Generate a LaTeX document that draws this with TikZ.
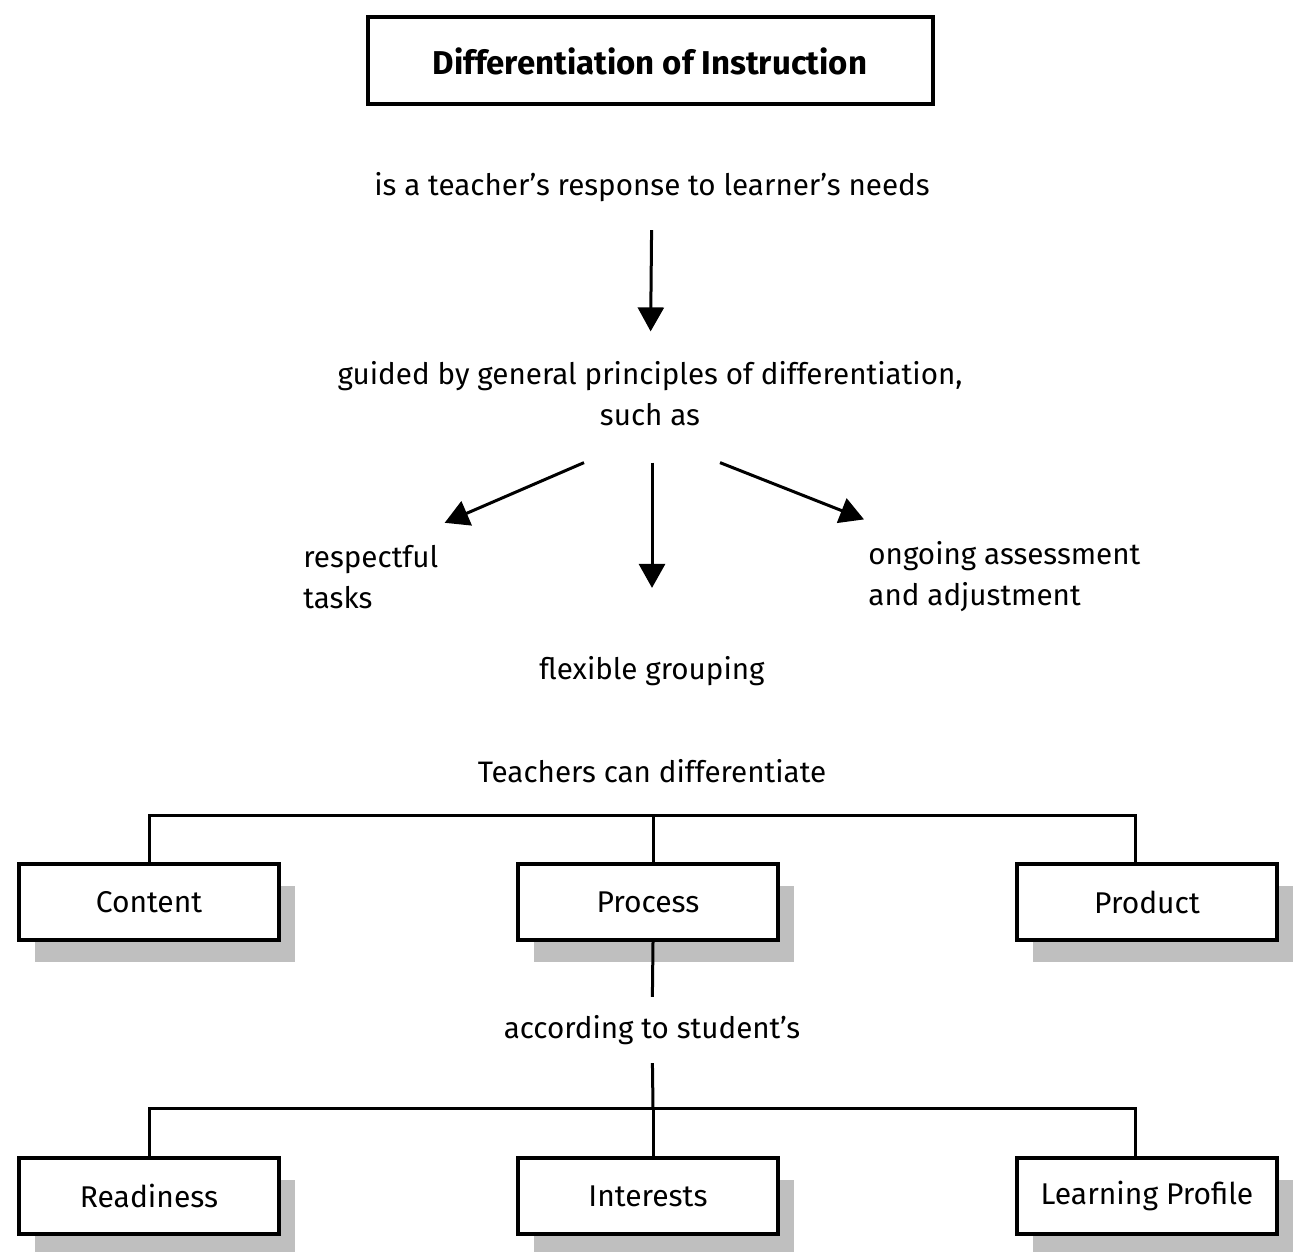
\documentclass[tikz,border=0pt]{standalone}
\usepackage{fontspec}
\setmainfont{Fira Sans}
\usetikzlibrary{positioning,arrows.meta,shadows}
\tikzset{
  titlebox/.style={draw=black, line width=2pt, minimum width=282.5pt, minimum height=43.5pt, font=\fontsize{16.5}{20}\selectfont\bfseries},
  txt/.style={font=\fontsize{14.8}{20.5}\selectfont, inner sep=0pt},
  cbox/.style={draw=black, line width=2pt, fill=white, minimum width=130pt, minimum height=38pt,
    font=\fontsize{15}{20}\selectfont,
    drop shadow={shadow xshift=8pt, shadow yshift=-11pt, fill=gray!50, opacity=1}},
  arr/.style={draw=black, line width=1.5pt, -{Triangle[length=12pt, width=13pt]}},
  ln/.style={draw=black, line width=1.5pt}
}
\begin{document}
\begin{tikzpicture}[x=0.5pt, y=-0.5pt]
  \useasboundingbox[fill=white] (0,0) rectangle (1299,1251);
  % upper part
  \node[titlebox] (diff) at (650,61) {Differentiation of Instruction};
  \node[txt] (resp) at (652,187) {is a teacher’s response to learner’s needs};
  \node[txt, align=center] (guide) at (650,394) {guided by general principles of differentiation,\\such as};
  \node[txt, align=left, anchor=west] (tasks) at (303,577) {respectful\\tasks};
  \node[txt, align=left, anchor=west] (assess) at (868,577) {ongoing assessment\\and adjustment};
  \node[txt] (flex) at (652,671) {flexible grouping};
  \draw[arr, shorten <=14pt, shorten >=15pt] (resp) -- (guide);
  \draw[arr] ([xshift=-33pt, yshift=-18pt]guide.south) -- ([xshift=3pt, yshift=11pt]tasks.north east);
  \draw[arr] ([xshift=1pt, yshift=-18pt]guide.south) -- ([yshift=34pt]flex.north);
  \draw[arr] ([xshift=35pt, yshift=-18pt]guide.south) -- ([xshift=-2pt, yshift=11pt]assess.north west);
  % lower part
  \node[txt] (teach) at (652,771) {Teachers can differentiate};
  \node[cbox] (content) at (149,902) {Content};
  \node[cbox] (process) at (648,902) {Process};
  \node[cbox] (product) at (1147,902) {Product};
  \coordinate (bus1) at (653,815);
  \draw[ln] (content.north) |- (bus1) -| ([xshift=-6pt]product.north);
  \draw[ln] (bus1) -- (bus1 |- process.north);
  \node[txt] (accord) at (652,1030) {according to student’s};
  \node[cbox] (ready) at (149,1196) {Readiness};
  \node[cbox] (inter) at (648,1196) {Interests};
  \node[cbox] (profile) at (1147,1196) {Learning Profile};
  \coordinate (bus2) at (653,1108);
  \draw[ln, shorten >=9pt] (process.south -| bus2) -- (accord);
  \draw[ln, shorten <=9pt] (accord) -- (bus2);
  \draw[ln] (ready.north) |- (bus2) -| ([xshift=-6pt]profile.north);
  \draw[ln] (bus2) -- (bus2 |- inter.north);
\end{tikzpicture}
\end{document}
